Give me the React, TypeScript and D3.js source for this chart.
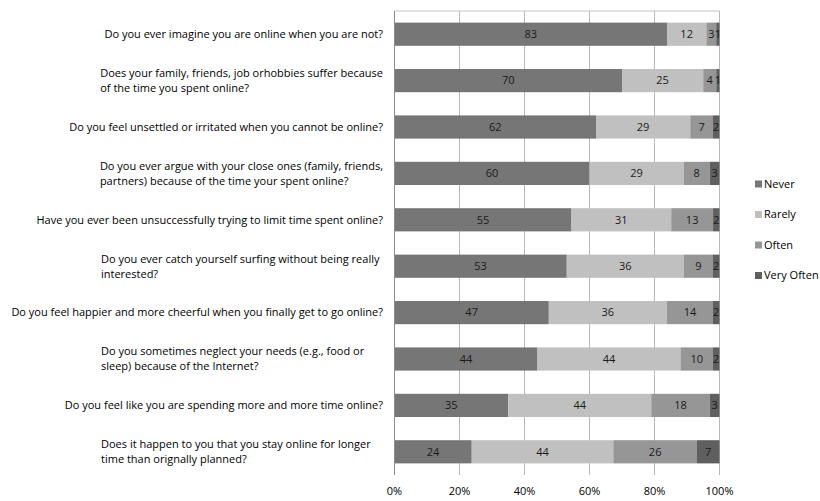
import React from "react";
import * as d3 from "d3";

const categories: string[] = [
  "Do you ever imagine you are online when you are not?",
  "Does your family, friends, job orhobbies suffer because\nof the time you spent online?",
  "Do you feel unsettled or irritated when you cannot be online?",
  "Do you ever argue with your close ones (family, friends,\npartners) because of the time your spent online?",
  "Have you ever been unsuccessfully trying to limit time spent online?",
  "Do you ever catch yourself surfing without being really\ninterested?",
  "Do you feel happier and more cheerful when you finally get to go online?",
  "Do you sometimes neglect your needs (e.g., food or\nsleep)  because of the Internet?",
  "Do you feel like you are spending more and more time online?",
  "Does it happen to you that you stay online for longer\ntime than orignally planned?",
];

const seriesNames: string[] = ["Never", "Rarely", "Often", "Very Often"];
const never: number[] = [83, 70, 62, 60, 55, 53, 47, 44, 35, 24];
const rarely: number[] = [12, 25, 29, 29, 31, 36, 36, 44, 44, 44];
const often: number[] = [3, 4, 7, 8, 13, 9, 14, 10, 18, 26];
const veryOften: number[] = [1, 1, 2, 3, 2, 2, 2, 2, 3, 7];
const xTicks: number[] = [0, 0.2, 0.4, 0.6, 0.8, 1];

const colors = ["#767676", "#c0c0c0", "#969696", "#5f5f5f"];
const FONT = "'Open Sans', sans-serif";
const FS = 11;

export default function App() {
  const W = 820, H = 501;
  const plotLeft = 394.5, plotRight = 719.5, plotTop = 11, plotBottom = 475;
  const labelRight = 383;
  const wrapWidth = 282;

  const rows = categories.map((c, i) => ({
    cat: c,
    Never: never[i],
    Rarely: rarely[i],
    Often: often[i],
    "Very Often": veryOften[i],
  }));

  const stack = d3.stack<any>().keys(seriesNames).offset(d3.stackOffsetExpand);
  const layers = stack(rows);

  const x = d3.scaleLinear().domain([0, 1]).range([plotLeft, plotRight]);
  const y = d3
    .scaleBand<string>()
    .domain(categories)
    .range([plotTop, plotBottom])
    .paddingInner(0.5)
    .paddingOuter(0.25);

  let measure = (s: string) => s.length * 5.5;
  if (typeof document !== "undefined") {
    const ctx = document.createElement("canvas").getContext("2d");
    if (ctx) {
      ctx.font = `${FS}px ${FONT}`;
      measure = (s: string) => ctx.measureText(s).width;
    }
  }

  const lineH = 15;

  return (
    <svg
      width={W}
      height={H}
      style={{ position: "absolute", left: 0, top: 0, background: "#fff" }}
      fontFamily={FONT}
      fontSize={FS}
    >
      {xTicks.slice(1).map((t) => (
        <line
          key={t}
          x1={x(t)}
          x2={x(t)}
          y1={plotTop}
          y2={plotBottom}
          stroke="#b8b8b8"
          strokeWidth={1}
        />
      ))}
      <line x1={plotLeft} x2={plotRight} y1={plotTop} y2={plotTop} stroke="#c4c4c4" strokeWidth={1} />

      {layers.map((layer, li) => (
        <g key={layer.key} fill={colors[li]}>
          {layer.map((d, i) => (
            <rect
              key={i}
              x={x(d[0])}
              y={y(categories[i])!}
              width={x(d[1]) - x(d[0])}
              height={y.bandwidth()}
            />
          ))}
        </g>
      ))}

      {layers.map((layer, li) => (
        <g key={"l" + layer.key} fill="#1a1a1a" textAnchor="middle">
          {layer.map((d, i) => (
            <text
              key={i}
              x={(x(d[0]) + x(d[1])) / 2}
              y={y(categories[i])! + y.bandwidth() / 2}
              dy="0.35em"
            >
              {(rows[i] as any)[layer.key]}
            </text>
          ))}
        </g>
      ))}

      <line x1={plotLeft} x2={plotLeft} y1={plotTop} y2={plotBottom} stroke="#8c8c8c" strokeWidth={1} />

      {categories.map((c) => {
        const lines = c.split("\n");
        const cy = y(c)! + y.bandwidth() / 2;
        if (lines.length === 1) {
          return (
            <text key={c} x={labelRight} y={cy} dy="0.35em" textAnchor="end" fill="#000">
              {c}
            </text>
          );
        }
        const widest = Math.max(...lines.map(measure));
        const left = labelRight - Math.max(wrapWidth, widest);
        const y0 = cy - ((lines.length - 1) * lineH) / 2;
        return (
          <text key={c} fill="#000">
            {lines.map((l, k) => (
              <tspan key={k} x={left} y={y0 + k * lineH} dy="0.35em">
                {l}
              </tspan>
            ))}
          </text>
        );
      })}

      {xTicks.map((t) => (
        <text key={t} x={x(t)} y={491} dy="0.35em" textAnchor="middle" fill="#000">
          {d3.format(".0%")(t)}
        </text>
      ))}

      {seriesNames.map((s, i) => {
        const ly = 184 + i * 30.5;
        return (
          <g key={s}>
            <rect x={755} y={ly - 3.5} width={7} height={7} fill={colors[i]} />
            <text x={764} y={ly} dy="0.35em" fill="#000">
              {s}
            </text>
          </g>
        );
      })}
    </svg>
  );
}
